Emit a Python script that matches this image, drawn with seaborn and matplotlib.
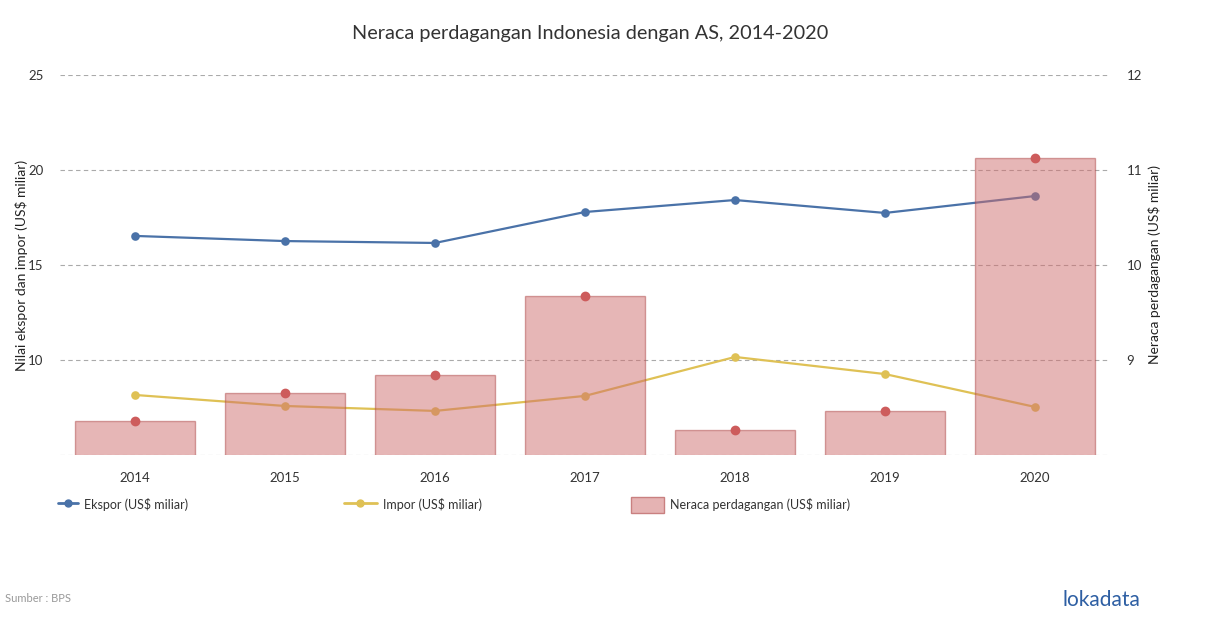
import numpy as np
import pandas as pd
import matplotlib
matplotlib.use("Agg")
import matplotlib.pyplot as plt
import seaborn as sns
from matplotlib.lines import Line2D
from matplotlib.patches import Patch

# data
years = ["2014", "2015", "2016", "2017", "2018", "2019", "2020"]
ekspor = [16.53, 16.26, 16.16, 17.79, 18.42, 17.74, 18.63]
impor = [8.16, 7.58, 7.32, 8.11, 10.16, 9.26, 7.53]
neraca = [8.36, 8.65, 8.84, 9.67, 8.26, 8.46, 11.13]

blue = "#4a72a8"
yellow = "#dfc155"
red = "#cd5c5c"

sns.set_theme(style="white")
plt.rcParams["font.family"] = ["Lato", "DejaVu Sans"]

df = pd.DataFrame({"tahun": years, "ekspor": ekspor, "impor": impor, "neraca": neraca})

fig = plt.figure(figsize=(12.1, 6.28), dpi=100)
ax = fig.add_axes([60 / 1210, 1 - 455 / 628, 1050 / 1210, 380 / 628])
ax2 = ax.twinx()

# lines on the left axis
sns.pointplot(data=df, x="tahun", y="ekspor", color=blue, ax=ax,
              markersize=5, linewidth=1.6)
sns.pointplot(data=df, x="tahun", y="impor", color=yellow, ax=ax,
              markersize=5, linewidth=1.6)

# bars on the right axis, semi transparent over the lines
sns.barplot(data=df, x="tahun", y="neraca", color="#cf6e6e", alpha=0.5, saturation=1,
            edgecolor="#b04a4a", linewidth=1, width=0.8, ax=ax2)
sns.pointplot(data=df, x="tahun", y="neraca", color=red, ax=ax2,
              linestyle="none", markersize=5)

ax.set_ylim(5, 25)
ax2.set_ylim(8, 12)
ax.set_xlim(-0.5, 6.5)
ax.set_yticks([5, 10, 15, 20, 25])
ax.set_yticklabels(["", "10", "15", "20", "25"])
ax2.set_yticks([8, 9, 10, 11, 12])
ax2.set_yticklabels(["", "9", "10", "11", "12"])

ax.grid(axis="y", color="#aaaaaa", linestyle=(0, (4, 3)), linewidth=0.8)
ax.set_axisbelow(True)
for a in (ax, ax2):
    for s in a.spines.values():
        s.set_visible(False)
    a.tick_params(length=0, labelsize=9.5, colors="#333333")
ax.tick_params(axis="y", pad=12)
ax2.tick_params(axis="y", pad=12)
ax.tick_params(axis="x", pad=12)

ax.set_xlabel("")
ax.set_ylabel("Nilai ekspor dan impor (US\\$ miliar)", fontsize=10, color="#222222", labelpad=0)
ax2.set_ylabel("Neraca perdagangan (US\\$ miliar)", fontsize=10, color="#222222", labelpad=4)

fig.text(590 / 1210, 1 - 33 / 628, "Neraca perdagangan Indonesia dengan AS, 2014-2020",
         ha="center", va="center", fontsize=14.3, color="#333333")

# legend entries placed separately
entries = [
    (Line2D([], [], color=blue, marker="o", markersize=5, linewidth=2), "Ekspor (US\\$ miliar)", 53, 1.6),
    (Line2D([], [], color=yellow, marker="o", markersize=5, linewidth=2), "Impor (US\\$ miliar)", 339, 2.6),
    (Patch(facecolor="#e5b3b3", edgecolor="#c98080"), "Neraca perdagangan (US\\$ miliar)", 626, 2.6),
]
for h, lab, xpx, hl in entries:
    fig.legend([h], [lab], loc="center left", bbox_to_anchor=(xpx / 1210, 1 - 505 / 628),
               frameon=False, fontsize=9, handlelength=hl, handleheight=1.6,
               handletextpad=0.5, labelcolor="#333333", borderaxespad=0)

fig.text(5 / 1210, 1 - 598 / 628, "Sumber : BPS", fontsize=8, color="#999999", va="center")
fig.text(1140 / 1210, 1 - 600 / 628, "lokadata", fontsize=15, color="#2e5fa3",
         ha="right", va="center")

fig.savefig("out.png", dpi=100)
